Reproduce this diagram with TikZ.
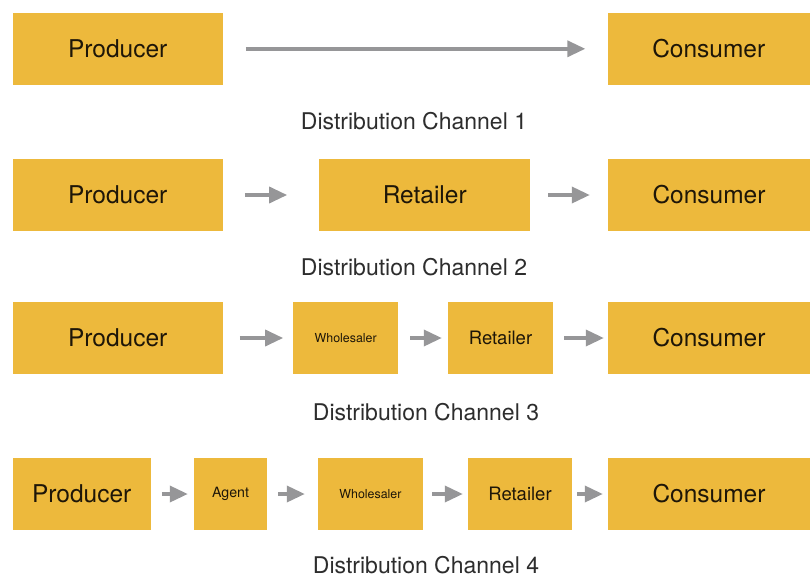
\documentclass[tikz,border=0pt]{standalone}
\usepackage{fontspec}
\setmainfont{TeX Gyre Heros}
\usetikzlibrary{arrows.meta}

\definecolor{boxfill}{RGB}{237,185,60}
\definecolor{boxtext}{RGB}{30,22,8}
\definecolor{flowgray}{RGB}{150,150,152}
\definecolor{captext}{RGB}{45,45,45}

\tikzset{
  stage/.style={fill=boxfill, draw=none, inner sep=0pt, minimum height=72pt,
    text=boxtext, font=\fontsize{24.5}{28}\selectfont},
  stagesmall/.style={stage, font=\fontsize{18.5}{22}\selectfont},
  stagetiny/.style={stage, font=\fontsize{12.4}{15}\selectfont},
  stageagent/.style={stage, font=\fontsize{14.2}{17}\selectfont},
  flow/.style={draw=flowgray, line width=3.5pt, -{Triangle[length=18pt,width=16pt]}},
  caption/.style={text=captext, font=\fontsize{23}{27}\selectfont, inner sep=0pt}
}

\begin{document}
\begin{tikzpicture}[x=1pt, y=-1pt]
\useasboundingbox (0,0) rectangle (810,578);

% Channel 1: producer straight to consumer
\node[stage, minimum width=210pt] (p1) at (117.7,48.8) {Producer};
\node[stage, minimum width=202.5pt] (c1) at (708.75,48.8) {Consumer};
\draw[flow, shorten <=23pt, shorten >=22pt] (p1) -- (c1);
\node[caption] (lab1) at (414,121) {Distribution Channel 1};

% Channel 2: one retailer in between
\node[stage, minimum width=210pt] (p2) at (117.7,195) {Producer};
\node[stage, minimum width=210.7pt] (r2) at (424.7,195) {Retailer};
\node[stage, minimum width=202pt] (c2) at (709,195) {Consumer};
\draw[flow, shorten <=22pt, shorten >=32pt] (p2) -- (r2);
\draw[flow, shorten <=18pt, shorten >=18pt] (r2) -- (c2);
\node[caption] (lab2) at (414,267) {Distribution Channel 2};

% Channel 3: wholesaler and retailer
\node[stage, minimum width=210pt] (p3) at (117.7,338) {Producer};
\node[stagetiny, minimum width=104.7pt] (w3) at (345.7,338) {Wholesaler};
\node[stagesmall, minimum width=105pt] (r3) at (500.5,338) {Retailer};
\node[stage, minimum width=202pt] (c3) at (709,338) {Consumer};
\draw[flow, shorten <=17pt, shorten >=10pt] (p3) -- (w3);
\draw[flow, shorten <=12pt, shorten >=6pt] (w3) -- (r3);
\draw[flow, shorten <=11pt, shorten >=4pt] (r3) -- (c3);
\node[caption] (lab3) at (426,412) {Distribution Channel 3};

% Channel 4: agent, wholesaler and retailer
\node[stage, minimum width=138pt] (p4) at (81.7,494) {Producer};
\node[stageagent, minimum width=73pt] (a4) at (230.5,494) {Agent};
\node[stagetiny, minimum width=105pt] (w4) at (370.5,494) {Wholesaler};
\node[stagesmall, minimum width=104pt] (r4) at (520,494) {Retailer};
\node[stage, minimum width=202pt] (c4) at (709,494) {Consumer};
\draw[flow, shorten <=11pt, shorten >=6pt] (p4) -- (a4);
\draw[flow, shorten <=11pt, shorten >=13pt] (a4) -- (w4);
\draw[flow, shorten <=9pt, shorten >=5pt] (w4) -- (r4);
\draw[flow, shorten <=5pt, shorten >=5pt] (r4) -- (c4);
\node[caption] (lab4) at (426,565) {Distribution Channel 4};
\end{tikzpicture}
\end{document}
